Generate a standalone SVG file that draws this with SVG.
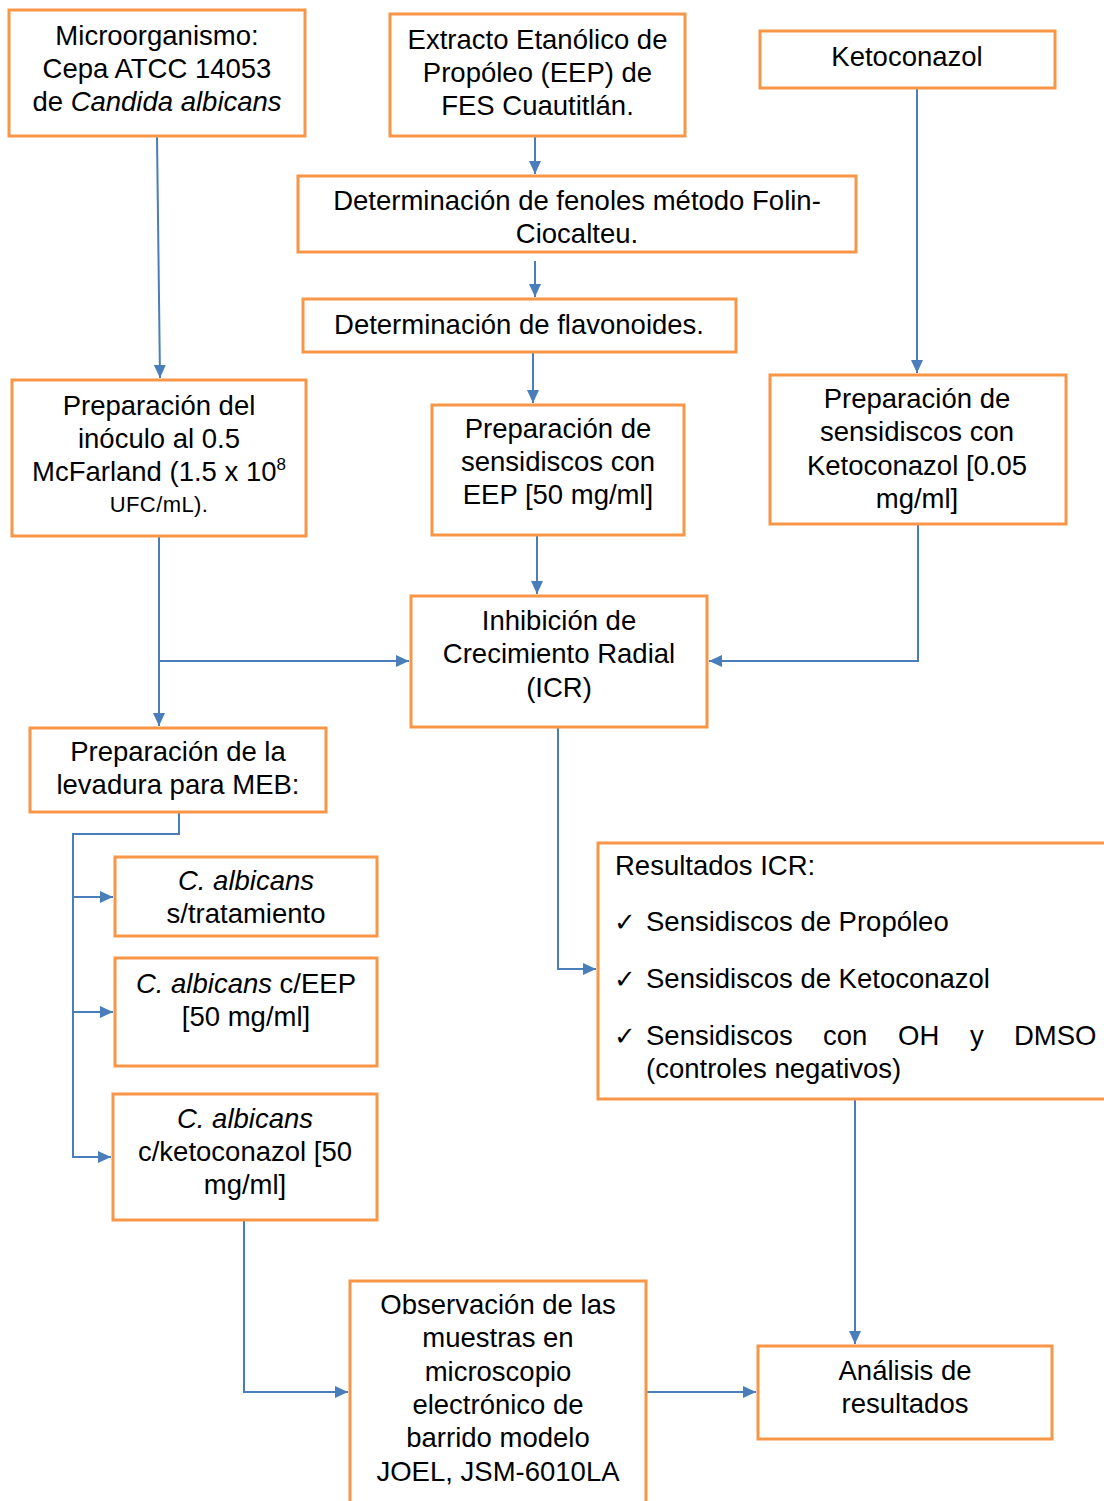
<svg xmlns="http://www.w3.org/2000/svg" width="1104" height="1501" viewBox="0 0 1104 1501">
<style>
.box{fill:#fff;stroke:#F79646;stroke-width:3}
.t{font-family:"Liberation Sans",Arial,sans-serif;font-size:27.5px;fill:#000;text-anchor:middle}
.l{font-family:"Liberation Sans",Arial,sans-serif;font-size:27.5px;fill:#000}
.i{font-style:italic}
.s{font-size:22px;letter-spacing:0.4px}
.ck{font-family:"DejaVu Sans",sans-serif;font-size:26px;fill:#000}
.c{fill:none;stroke:#4A7EBB;stroke-width:2}
</style>
<defs>
<marker id="ah" markerUnits="userSpaceOnUse" markerWidth="14" markerHeight="14" refX="13" refY="7" orient="auto">
<path d="M0,1 L13,7 L0,13 z" fill="#4A7EBB"/>
</marker>
</defs>
<rect width="1104" height="1501" fill="#fff"/>
<g id="connectors">
<path class="c" marker-end="url(#ah)" d="M157,137 L160,378"/>
<path class="c" marker-end="url(#ah)" d="M535,137 L535,174"/>
<path class="c" marker-end="url(#ah)" d="M535,261 L535,297"/>
<path class="c" marker-end="url(#ah)" d="M533,353 L533,403"/>
<path class="c" marker-end="url(#ah)" d="M917,89 L917,373"/>
<path class="c" marker-end="url(#ah)" d="M159,537 L159,726"/>
<path class="c" marker-end="url(#ah)" d="M159,661 L409,661"/>
<path class="c" marker-end="url(#ah)" d="M537,536 L537,594"/>
<path class="c" marker-end="url(#ah)" d="M918,525 L918,661 L709,661"/>
<path class="c" marker-end="url(#ah)" d="M558,728 L558,969 L596,969"/>
<path class="c" marker-end="url(#ah)" d="M179,813 L179,834 L73,834 L73,1157 L111,1157"/>
<path class="c" marker-end="url(#ah)" d="M73,897 L113,897"/>
<path class="c" marker-end="url(#ah)" d="M73,1012 L113,1012"/>
<path class="c" marker-end="url(#ah)" d="M244,1221 L244,1392 L348,1392"/>
<path class="c" marker-end="url(#ah)" d="M647,1392 L756,1392"/>
<path class="c" marker-end="url(#ah)" d="M855,1100 L855,1344"/>
</g>
<g id="microorganismo">
<rect class="box" x="9" y="10" width="296" height="126"/>
<text class="t" x="157" y="45">Microorganismo:</text>
<text class="t" x="157" y="78">Cepa ATCC 14053</text>
<text class="t" x="157" y="111">de <tspan class="i">Candida albicans</tspan></text>
</g>
<g id="extracto">
<rect class="box" x="390" y="14" width="295" height="122"/>
<text class="t" x="537.5" y="49">Extracto Etanólico de</text>
<text class="t" x="537.5" y="82">Propóleo (EEP) de</text>
<text class="t" x="537.5" y="115">FES Cuautitlán.</text>
</g>
<g id="ketoconazol">
<rect class="box" x="760" y="31" width="295" height="57"/>
<text class="t" x="907" y="66">Ketoconazol</text>
</g>
<g id="fenoles">
<rect class="box" x="298" y="176" width="558" height="76"/>
<text class="t" x="577" y="210">Determinación de fenoles método Folin-</text>
<text class="t" x="577" y="243">Ciocalteu.</text>
</g>
<g id="flavonoides">
<rect class="box" x="303" y="299" width="433" height="53"/>
<text class="t" x="519" y="334">Determinación de flavonoides.</text>
</g>
<g id="inoculo">
<rect class="box" x="12" y="380" width="294" height="156"/>
<text class="t" x="159" y="415">Preparación del</text>
<text class="t" x="159" y="448">inóculo al 0.5</text>
<text class="t" x="159" y="481">McFarland (1.5 x 10<tspan font-size="17" dy="-11">8</tspan></text>
<text class="t s" x="159" y="512">UFC/mL).</text>
</g>
<g id="sensidiscos-eep">
<rect class="box" x="432" y="405" width="252" height="130"/>
<text class="t" x="558" y="438">Preparación de</text>
<text class="t" x="558" y="471">sensidiscos con</text>
<text class="t" x="558" y="504">EEP [50 mg/ml]</text>
</g>
<g id="sensidiscos-keto">
<rect class="box" x="770" y="375" width="296" height="149"/>
<text class="t" x="917" y="408">Preparación de</text>
<text class="t" x="917" y="441">sensidiscos con</text>
<text class="t" x="917" y="475">Ketoconazol [0.05</text>
<text class="t" x="917" y="508">mg/ml]</text>
</g>
<g id="icr">
<rect class="box" x="411" y="596" width="296" height="131"/>
<text class="t" x="559" y="630">Inhibición de</text>
<text class="t" x="559" y="663">Crecimiento Radial</text>
<text class="t" x="559" y="697">(ICR)</text>
</g>
<g id="meb">
<rect class="box" x="30" y="728" width="296" height="84"/>
<text class="t" x="178" y="761">Preparación de la</text>
<text class="t" x="178" y="794">levadura para MEB:</text>
</g>
<g id="sin-tratamiento">
<rect class="box" x="115" y="857" width="262" height="79"/>
<text class="t" x="246" y="890"><tspan class="i">C. albicans</tspan></text>
<text class="t" x="246" y="923">s/tratamiento</text>
</g>
<g id="con-eep">
<rect class="box" x="115" y="958" width="262" height="108"/>
<text class="t" x="246" y="993"><tspan class="i">C. albicans</tspan> c/EEP</text>
<text class="t" x="246" y="1026">[50 mg/ml]</text>
</g>
<g id="con-ketoconazol">
<rect class="box" x="113" y="1094" width="264" height="126"/>
<text class="t" x="245" y="1128"><tspan class="i">C. albicans</tspan></text>
<text class="t" x="245" y="1161">c/ketoconazol [50</text>
<text class="t" x="245" y="1194">mg/ml]</text>
</g>
<g id="resultados">
<rect class="box" x="598" y="843" width="520" height="256"/>
<text class="l" x="615" y="875">Resultados ICR:</text>
<text class="ck" x="614" y="931">✓</text>
<text class="l" x="646" y="931">Sensidiscos de Propóleo</text>
<text class="ck" x="614" y="988">✓</text>
<text class="l" x="646" y="988">Sensidiscos de Ketoconazol</text>
<text class="ck" x="614" y="1045">✓</text>
<text class="l" y="1045"><tspan x="646">Sensidiscos</tspan><tspan x="823">con</tspan><tspan x="898">OH</tspan><tspan x="970">y</tspan><tspan x="1014">DMSO</tspan></text>
<text class="l" x="646" y="1078">(controles negativos)</text>
</g>
<g id="observacion">
<rect class="box" x="350" y="1281" width="296" height="240"/>
<text class="t" x="498" y="1314">Observación de las</text>
<text class="t" x="498" y="1347">muestras en</text>
<text class="t" x="498" y="1381">microscopio</text>
<text class="t" x="498" y="1414">electrónico de</text>
<text class="t" x="498" y="1447">barrido modelo</text>
<text class="t" x="498" y="1481">JOEL, JSM-6010LA</text>
</g>
<g id="analisis">
<rect class="box" x="758" y="1346" width="294" height="93"/>
<text class="t" x="905" y="1380">Análisis de</text>
<text class="t" x="905" y="1413">resultados</text>
</g>
</svg>
